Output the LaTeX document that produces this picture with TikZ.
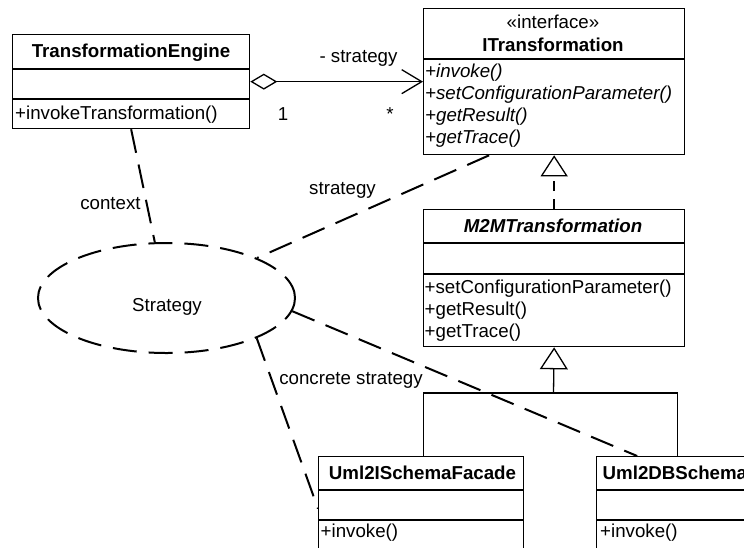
\documentclass[tikz,border=0pt]{standalone}
\usepackage{fontspec}
\setmainfont{Liberation Sans}
\usetikzlibrary{arrows.meta,shapes.geometric}
\newcommand\dfsize{\fontsize{18.7}{22}\selectfont}
\begin{document}
\begin{tikzpicture}[x=1pt,y=-1pt,
  box/.style={draw, line width=1.3pt, inner sep=0pt, anchor=north west},
  sep/.style={line width=1.3pt},
  ctxt/.style={inner sep=0pt, anchor=base, font=\dfsize},
  ltxt/.style={inner sep=0pt, anchor=base west, font=\dfsize},
  bold/.style={font=\dfsize\bfseries},
  ital/.style={font=\dfsize\itshape},
  bital/.style={font=\dfsize\bfseries\itshape},
  conn/.style={line width=1.3pt},
  roledash/.style={line width=2pt, dash pattern=on 24pt off 12pt},
  realdash/.style={line width=2pt, dash pattern=on 10pt off 8pt},
]
\clip (0,0) rectangle (744,547);
\fill[white] (0,0) rectangle (744,547);

% TransformationEngine
\node[box, minimum width=237pt, minimum height=94pt] (te) at (12,34) {};
\draw[sep] (12,69) -- (249,69);
\draw[sep] (12,99) -- (249,99);
\node[ctxt, bold] (teT) at (131,57.5) {TransformationEngine};
\node[ltxt] (teO) at (15,119) {+invokeTransformation()};

% ITransformation
\node[box, minimum width=261pt, minimum height=146pt] (it) at (423,8) {};
\draw[sep] (423,59) -- (684,59);
\node[ctxt] (itS) at (553,28) {«interface»};
\node[ctxt, bold] (itT) at (553,51) {ITransformation};
\node[ltxt, ital] (itO1) at (425,77) {+invoke()};
\node[ltxt, ital] (itO2) at (425,99) {+setConfigurationParameter()};
\node[ltxt, ital] (itO3) at (425,121) {+getResult()};
\node[ltxt, ital] (itO4) at (425,143) {+getTrace()};

% M2MTransformation
\node[box, minimum width=261pt, minimum height=137pt] (mm) at (423,209) {};
\draw[sep] (423,243) -- (684,243);
\draw[sep] (423,274) -- (684,274);
\node[ctxt, bital] (mmT) at (553,232.7) {M2MTransformation};
\node[ltxt] (mmO1) at (424.5,293) {+setConfigurationParameter()};
\node[ltxt] (mmO2) at (424.5,315) {+getResult()};
\node[ltxt] (mmO3) at (424.5,337) {+getTrace()};

% Uml2ISchemaFacade
\node[box, minimum width=205pt, minimum height=110pt] (uf) at (318,456) {};
\draw[sep] (318,490) -- (523,490);
\draw[sep] (318,520) -- (523,520);
\node[ctxt, bold] (ufT) at (422.5,479) {Uml2ISchemaFacade};
\node[ltxt] (ufO) at (320.5,537) {+invoke()};

% Uml2DBSchema
\node[box, minimum width=161pt, minimum height=110pt] (db) at (596,456) {};
\draw[sep] (596,490) -- (757,490);
\draw[sep] (596,520) -- (757,520);
\node[ltxt, bold] (dbT) at (602.5,479) {Uml2DBSchema};
\node[ltxt] (dbO) at (600,537) {+invoke()};

% Strategy collaboration
\node[ellipse, draw, roledash, minimum width=257pt, minimum height=110pt, inner sep=0pt] (st) at (166.5,298) {};
\node[ctxt] (stT) at (167,311) {Strategy};

% aggregation
\draw[conn, {Diamond[open, length=27pt, width=16pt]}-{Straight Barb[length=20pt, width=24pt]}] (te.east) -- (it.west);
\node[ctxt] (aggL) at (358.5,62) {- strategy};
\node[ctxt] (aggM1) at (283,120) {1};
\node[ctxt] (aggM2) at (390,120) {*};

% realization
\draw[realdash, -{Triangle[open, length=21pt, width=27pt, line width=1.3pt]}] (mm.north) -- (it.south);

% generalization
\coordinate (jn) at (553.5,393);
\draw[conn] ([xshift=2pt]uf.north) |- (jn);
\draw[conn] (db.north) |- (jn);
\draw[conn, -{Triangle[open, length=22pt, width=28pt]}] (jn) -- (mm.south);

% collaboration roles
\draw[roledash] (te.south) -- (st);
\node[ctxt] (ctxL) at (110.5,209) {context};
\draw[roledash] ([xshift=-65pt]it.south) -- (st);
\node[ctxt] (strL) at (342.5,194) {strategy};
\draw[roledash] (st.-24) -- ([yshift=3pt]uf.west);
\node[ctxt] (csL) at (351,384) {concrete strategy};
\draw[roledash] (st.-6) -- ([xshift=-40pt]db.north);
\end{tikzpicture}
\end{document}
